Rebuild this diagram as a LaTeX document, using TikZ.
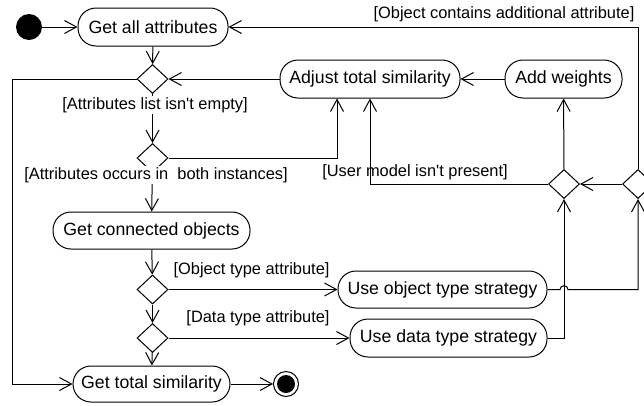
\documentclass[tikz,border=0pt]{standalone}
\usepackage{fontspec}
\setmainfont{Liberation Sans}
\usetikzlibrary{arrows.meta,shapes.geometric}
\tikzset{
 act/.style={draw, rounded corners=18pt, minimum height=38pt, inner sep=0pt, font=\fontsize{17.7}{20}\selectfont, line width=1pt},
 dec/.style={draw, diamond, minimum width=31pt, minimum height=29pt, inner sep=0pt, line width=1pt, fill=white},
 guard/.style={fill=white, inner sep=1pt, font=\fontsize{16.4}{19}\selectfont},
 flow/.style={-{Straight Barb[length=12pt,width=13pt]}, line width=1pt}
}
\begin{document}
\begin{tikzpicture}[x=1pt,y=-1pt]
\useasboundingbox (0,0) rectangle (644,405);
\clip (0,0) rectangle (644,405);
% nodes
\node[circle, fill=black, minimum size=26pt, inner sep=0pt] (start) at (29,27) {};
\node[act, minimum width=150pt] (getall) at (153,27) {Get all attributes};
\node[act, minimum width=180pt] (adjust) at (370,79) {Adjust total similarity};
\node[act, minimum width=117pt] (addw) at (563.5,79) {Add weights};
\node[act, minimum width=197pt, minimum height=37pt] (getconn) at (151.5,230.5) {Get connected objects};
\node[act, minimum width=209pt, minimum height=37pt] (useobj) at (442.5,289.5) {Use object type strategy};
\node[act, minimum width=197pt] (usedata) at (448.5,338) {Use data type strategy};
\node[act, minimum width=157pt, minimum height=36pt] (gettotal) at (151.5,384) {Get total similarity};
\node[circle, draw, line width=1pt, minimum size=25pt, inner sep=0pt] (end) at (286,384) {};
\fill (end.center) circle (9pt);
\node[dec] (d1) at (152.5,79) {};
\node[dec] (d2) at (152.5,158) {};
\node[dec] (d3) at (152.5,289.5) {};
\node[dec] (d4) at (152.5,338) {};
\node[dec] (dm) at (564,184) {};
\node[dec] (dr) at (638,184) {};
\coordinate (xl) at (12,0);
\coordinate (xa) at (337,0);
\coordinate (xb) at (370,0);
\coordinate (xj) at (564,0);
% connectors
\draw[flow] (start) -- (getall);
\draw[flow] (getall) -- (d1);
\draw[flow] (d1.west) -- (xl |- d1.west) -- (xl |- gettotal.west) -- (gettotal.west);
\draw[flow] (adjust) -- (d1.east);
\draw[flow] (addw) -- (adjust);
\draw[flow] (d1) -- (d2);
\draw[flow] (d2.east) -| (xa |- adjust.south);
\draw[flow] (d2) -- (getconn);
\draw[flow] (getconn) -- (d3);
\draw[flow] (d3) -- (useobj);
\draw[flow] (d3) -- (d4);
\draw[flow] (d4) -- (usedata);
\draw[flow] (d4) -- (gettotal);
\draw[flow] (gettotal) -- (end);
\draw[flow] (usedata.east) -| (dm.south);
\draw[flow] (useobj.east) -- ([xshift=-4pt]xj |- useobj.east) .. controls ([xshift=-4pt,yshift=5pt]xj |- useobj.east) and ([xshift=4pt,yshift=5pt]xj |- useobj.east) .. ([xshift=4pt]xj |- useobj.east) -| (dr.south);
\draw[flow] (dr.west) -- (dm.east);
\draw[flow] (dm) -- (addw);
\draw[flow] (dm.west) -| (xb |- adjust.south);
\draw[flow] (dr.north) |- (getall.east);
% guards
\node[guard] at (504,14) {[Object contains additional attribute]};
\node[guard] at (155,105) {[Attributes list isn\textquotesingle t empty]};
\node[guard] at (156,175) {[Attributes occurs in\ \ both instances]};
\node[guard, fill=none] at (415,172) {[User model isn\textquotesingle t present]};
\node[guard] at (251.5,270) {[Object type attribute]};
\node[guard] at (258,318) {[Data type attribute]};
\end{tikzpicture}
\end{document}
